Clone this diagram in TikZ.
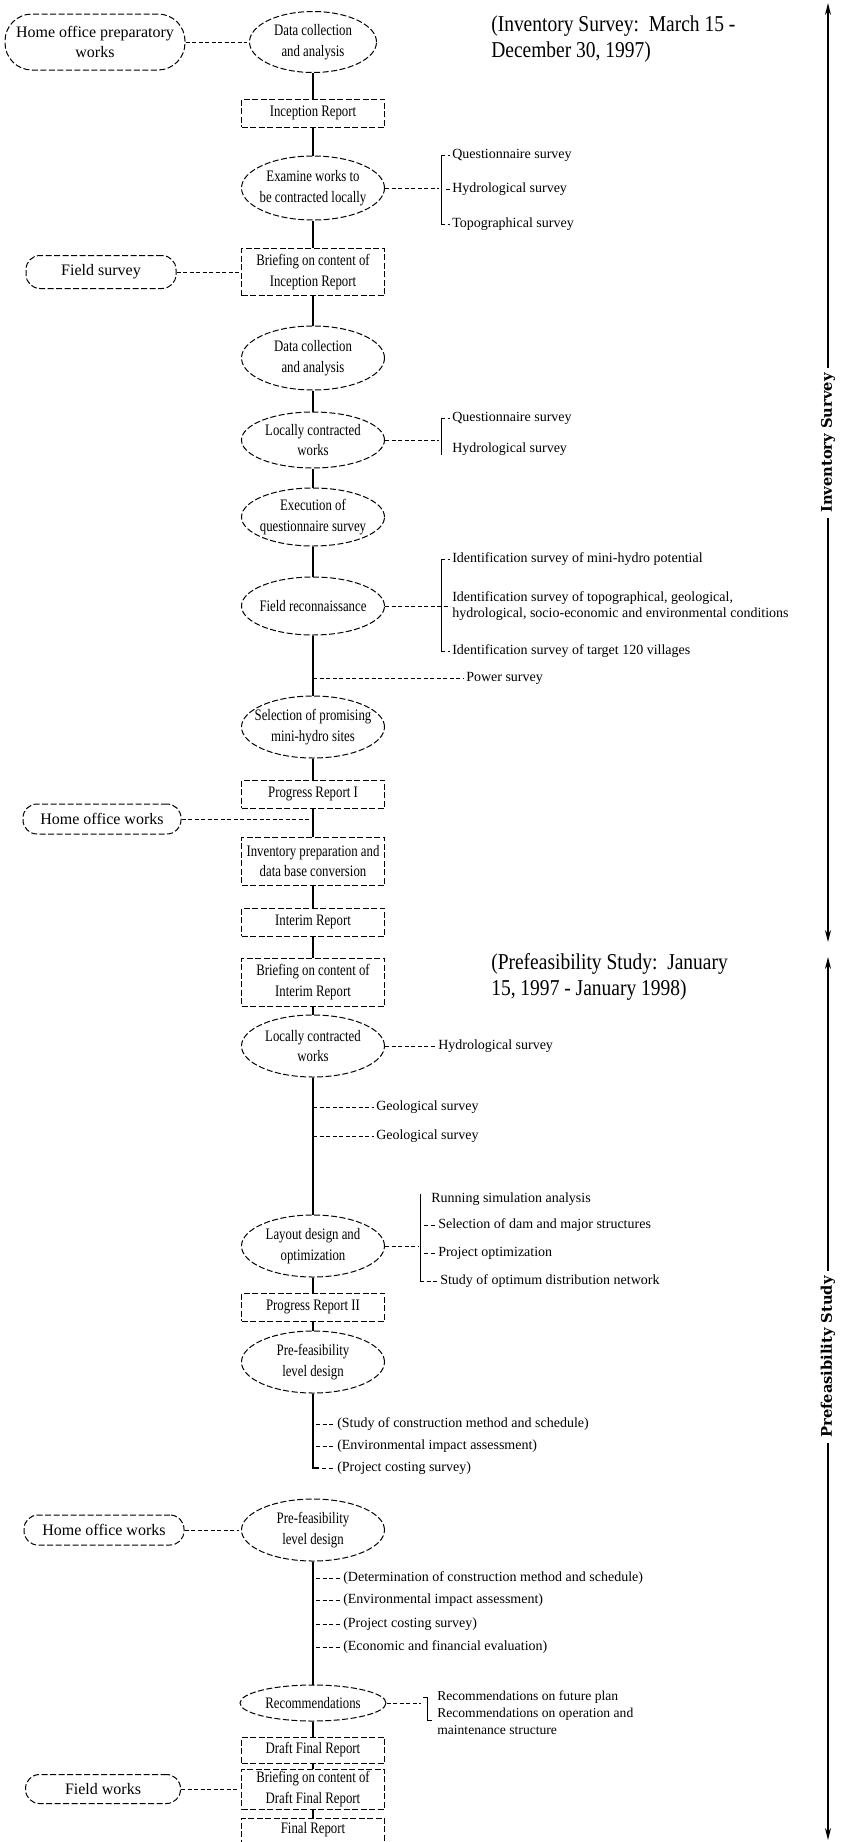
\documentclass[tikz,border=0pt]{standalone}
\usepackage{fontspec}
\setmainfont{Liberation Serif}
\newfontfamily\condf[FakeStretch=0.8]{Liberation Serif}
\newfontfamily\headf[FakeStretch=0.86]{Liberation Serif}
\newfontfamily\labfont{DejaVu Serif}
\usetikzlibrary{shapes.geometric,arrows.meta}
\newlength\px
\setlength\px{0.75pt}
\begin{document}
\begin{tikzpicture}[x=0.75pt,y=-0.75pt,
  shp/.style={draw, line width=1\px, dash pattern=on 6\px off 2.5\px, inner sep=1\px, align=center, font=\condf\fontsize{12}{15.5}\selectfont},
  ell/.style={shp, ellipse, inner xsep=-25\px, inner ysep=0pt, minimum width=143\px, minimum height=62\px},
  rbox/.style={shp, rectangle, minimum width=143\px, minimum height=28\px},
  stad/.style={shp, rectangle, rounded corners=14\px, minimum height=31\px, font=\fontsize{12}{15.5}\selectfont},
  flow/.style={line width=1.3\px},
  side/.style={line width=1\px, dash pattern=on 4\px off 2.5\px, shorten >=2\px},
  brk/.style={line width=1\px},
  note/.style={anchor=west, inner sep=0pt, font=\fontsize{10.5}{12.3}\selectfont, align=left},
  head/.style={anchor=west, inner sep=0pt, font=\headf\fontsize{17}{20}\selectfont, align=left},
  axis/.style={line width=1.3\px, -{Stealth[length=9pt,width=4.5pt]}},
  axlab/.style={rotate=90, inner xsep=5\px, inner ysep=0pt, font=\labfont\bfseries\fontsize{11}{12}\selectfont}
]
\useasboundingbox (0,0) rectangle (845,1842);

% ---------- Inventory survey ----------
\node[stad, minimum width=180\px, minimum height=56\px, rounded corners=27\px] (hop) at (95,42) {Home office preparatory\\works};
\node[ell, minimum width=127\px, minimum height=61\px] (dc1) at (313,42) {Data collection\\and analysis};
\draw[side] (hop.east) -- (dc1.west);
\node[head] (h1) at (491,39) {(Inventory Survey:\ \ March 15 -\\December 30, 1997)};

\node[rbox] (ir) at (313,113) {Inception Report};
\node[ell, minimum height=64\px] (ex) at (313,188) {Examine works to\\be contracted locally};
\coordinate (b1t) at (441,155);
\coordinate (b1b) at (441,224);
\node[note] (q1) at (452,155) {Questionnaire survey};
\node[note] (hy1) at (452,189) {Hydrological survey};
\node[note] (tp1) at (452,224) {Topographical survey};
\draw[brk] (b1t) -- (b1b);
\draw[side] (b1t) -- (q1.west);
\draw[side, shorten <=5\px] (hy1.west -| b1t) -- (hy1.west);
\draw[side] (b1b) -- (tp1.west);
\draw[side] (ex.east) -- (ex.east -| b1t);

\node[rbox, minimum height=47\px] (bi) at (313,272) {Briefing on content of\\Inception Report};
\node[stad, minimum width=150\px, minimum height=33\px] (fs) at (101,272) {Field survey};
\draw[side] (fs.east) -- (bi.west);

\node[ell, minimum height=64\px] (dc2) at (313,358) {Data collection\\and analysis};
\node[ell, minimum height=56\px] (lc1) at (313,440) {Locally contracted\\works};
\coordinate (b2t) at (441,418);
\coordinate (b2b) at (441,455);
\node[note] (q2) at (452,418) {Questionnaire survey};
\node[note] (hy2) at (452,449) {Hydrological survey};
\draw[brk] (b2t) -- (b2b);
\draw[side] (b2t) -- (q2.west);
\draw[side] (lc1.east) -- (lc1.east -| b2t);

\node[ell, minimum height=58\px] (eq) at (313,517) {Execution of\\questionnaire survey};
\node[ell, minimum height=58\px] (fr) at (313,606) {Field reconnaissance};
\coordinate (b3t) at (441,559);
\coordinate (b3b) at (441,651);
\node[note] (i1) at (452,559) {Identification survey of mini-hydro potential};
\node[note] (i2) at (452,606) {Identification survey of topographical, geological,\\hydrological, socio-economic and environmental conditions};
\node[note] (i3) at (452,651) {Identification survey of target 120 villages};
\draw[brk] (b3t) -- (b3b);
\draw[side] (b3t) -- (i1.west);
\draw[side] (b3b) -- (i3.west);
\draw[side] (fr.east) -- (fr.east -| i2.west);

\coordinate (pw) at (313,678);
\node[note] (pwt) at (466,678) {Power survey};
\draw[side] (pw) -- (pwt.west);

\node[ell] (sel) at (313,727) {Selection of promising\\mini-hydro sites};
\node[rbox] (p1) at (313,794) {Progress Report I};
\node[stad, minimum width=158\px, minimum height=30\px] (how1) at (102,819) {Home office works};
\coordinate (m1) at (313,819);
\draw[side] (how1.east) -- (m1);
\node[rbox, minimum height=48\px] (inv) at (313,861) {Inventory preparation and\\data base conversion};
\node[rbox] (interim) at (313,922) {Interim Report};

% ---------- Prefeasibility study ----------
\node[rbox, minimum height=48\px] (bint) at (313,982) {Briefing on content of\\Interim Report};
\node[head] (h2) at (491,977) {(Prefeasibility Study:\ \ January\\15, 1997 - January 1998)};

\node[ell] (lc2) at (313,1046) {Locally contracted\\works};
\node[note] (hy3) at (438,1046) {Hydrological survey};
\draw[side] (lc2.east) -- (hy3.west);

\coordinate (g1) at (313,1107);
\node[note] (g1t) at (376,1107) {Geological survey};
\draw[side] (g1) -- (g1t.west);
\coordinate (g2) at (313,1136);
\node[note] (g2t) at (376,1136) {Geological survey};
\draw[side] (g2) -- (g2t.west);

\node[ell] (lay) at (313,1246) {Layout design and\\optimization};
\coordinate (b5t) at (420,1194);
\coordinate (b5b) at (420,1281);
\node[note] (rs) at (431,1199) {Running simulation analysis};
\node[note] (sd) at (438,1225) {Selection of dam and major structures};
\node[note] (po) at (438,1253) {Project optimization};
\node[note] (so) at (440,1281) {Study of optimum distribution network};
\draw[brk] (b5t) -- (b5b);
\draw[side, shorten <=4\px] (sd.west -| b5t) -- (sd.west);
\draw[side, shorten <=4\px] (po.west -| b5t) -- (po.west);
\draw[side] (b5b) -- (so.west);
\draw[side] (lay.east) -- (lay.east -| b5t);

\node[rbox] (p2) at (313,1307) {Progress Report II};
\node[ell] (pf1) at (313,1362) {Pre-feasibility\\level design};
\coordinate (pfb) at (313,1468);
\coordinate (pff) at (319,1468);
\node[note] (s1) at (337,1424) {(Study of construction method and schedule)};
\node[note] (s2) at (337,1446) {(Environmental impact assessment)};
\node[note] (s3) at (337,1468) {(Project costing survey)};
\draw[flow] (pf1) -- (pfb) -- (pff);
\draw[side, shorten <=3\px] (s1.west -| pfb) -- (s1.west);
\draw[side, shorten <=3\px] (s2.west -| pfb) -- (s2.west);
\draw[side, shorten <=9\px] (s3.west -| pfb) -- (s3.west);

\node[ell] (pf2) at (313,1530) {Pre-feasibility\\level design};
\node[stad, minimum width=160\px, minimum height=30\px] (how2) at (104,1530) {Home office works};
\draw[side] (how2.east) -- (pf2.west);
\node[note] (d1) at (343,1578) {(Determination of construction method and schedule)};
\node[note] (d2) at (343,1600) {(Environmental impact assessment)};
\node[note] (d3) at (343,1624) {(Project costing survey)};
\node[note] (d4) at (343,1647) {(Economic and financial evaluation)};
\draw[side, shorten <=3\px] (d1.west -| pf2.south) -- (d1.west);
\draw[side, shorten <=3\px] (d2.west -| pf2.south) -- (d2.west);
\draw[side, shorten <=3\px] (d3.west -| pf2.south) -- (d3.west);
\draw[side, shorten <=3\px] (d4.west -| pf2.south) -- (d4.west);

\node[ell, inner xsep=-10\px, minimum width=146\px, minimum height=36\px] (recs) at (313,1703) {Recommendations};
\coordinate (b6t) at (427,1697);
\coordinate (b6b) at (427,1720);
\coordinate (b6tl) at (423,1697);
\coordinate (b6bf) at (432,1720);
\node[note, font=\fontsize{10.2}{12.75}\selectfont, anchor=north west] (rc) at (437,1691) {Recommendations on future plan\\Recommendations on operation and\\maintenance structure};
\draw[brk] (b6tl) -- (b6t) -- (b6b) -- (b6bf);
\draw[side] (recs.east) -- (recs.east -| b6tl);

\node[rbox, minimum height=26\px] (draft) at (313,1750) {Draft Final Report};
\node[rbox, minimum height=40\px] (bdraft) at (313,1789) {Briefing on content of\\Draft Final Report};
\node[stad, minimum width=155\px, minimum height=29\px] (fw) at (103,1789) {Field works};
\draw[side] (fw.east) -- (bdraft.west);
\node[rbox, minimum height=24\px] (final) at (313,1830) {Final Report};

% main flow
\draw[flow] (dc1) -- (ir);
\draw[flow] (ir) -- (ex);
\draw[flow] (ex) -- (bi);
\draw[flow] (bi) -- (dc2);
\draw[flow] (dc2) -- (lc1);
\draw[flow] (lc1) -- (eq);
\draw[flow] (eq) -- (fr);
\draw[flow] (fr) -- (sel);
\draw[flow] (sel) -- (p1);
\draw[flow] (p1) -- (inv);
\draw[flow] (inv) -- (interim);
\draw[flow] (interim) -- (bint);
\draw[flow] (bint) -- (lc2);
\draw[flow] (lc2) -- (lay);
\draw[flow] (lay) -- (p2);
\draw[flow] (p2) -- (pf1);
\draw[flow] (pf2) -- (recs);
\draw[flow] (recs) -- (draft);
\draw[flow] (draft) -- (bdraft);
\draw[flow] (bdraft) -- (final);

% right-hand time axis
\node[axlab] (l1) at (828,443) {Inventory Survey};
\coordinate (a1t) at (828,3);
\coordinate (a1b) at (828,942);
\draw[axis] (l1.east) -- (a1t);
\draw[axis] (l1.west) -- (a1b);
\node[axlab] (l2) at (828,1357) {Prefeasibility Study};
\coordinate (a2t) at (828,957);
\coordinate (a2b) at (828,1840);
\draw[axis] (l2.east) -- (a2t);
\draw[axis] (l2.west) -- (a2b);
\end{tikzpicture}
\end{document}
